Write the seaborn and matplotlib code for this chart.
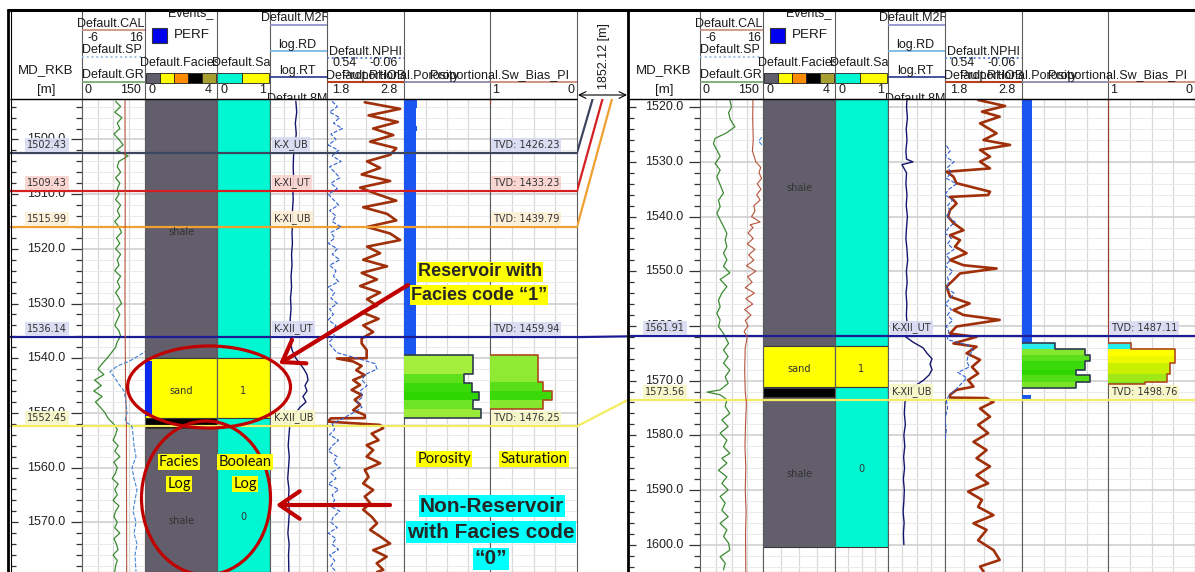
import numpy as np
import pandas as pd
import matplotlib
matplotlib.use("Agg")
import matplotlib.pyplot as plt
import seaborn as sns
from matplotlib.patches import Rectangle, Ellipse, FancyArrowPatch
from matplotlib.transforms import Bbox, TransformedBbox, blended_transform_factory
from matplotlib.ticker import MultipleLocator, FixedLocator, NullLocator

sns.set_theme(style="white")
plt.rcParams['font.family'] = ['Liberation Sans', 'DejaVu Sans']


def seq(start, n, step=1.0):
    return [round(start + step * i, 2) for i in range(n)]


# ======================= DATA =======================
LEFT_VIEW = (1492.6, 1579.1)
RIGHT_VIEW = (1518.5, 1605.0)
well_distance = "1852.12 [m]"

hz_names = ["K-X_UB", "K-XI_UT", "K-XI_UB", "K-XII_UT", "K-XII_UB"]
hz_left_md = [1502.43, 1509.43, 1515.99, 1536.14, 1552.45]
hz_left_tvd = [1426.23, 1433.23, 1439.79, 1459.94, 1476.25]
hz_right_md = [1496.6, 1502.0, 1508.1, 1561.91, 1573.56]
hz_right_tvd = [1420.2, 1425.6, 1431.7, 1487.11, 1498.76]
hz_colors = ['#3c4660', '#d42020', '#f0a030', '#1c1c96', '#f3ec60']
hz_label_bg = ['#d8dbf2', '#f9d3cf', '#fcefd6', '#d9daf3', '#f8f7c8']

facies_palette = ['#625e6b', '#ffff00', '#ff8c00', '#000000', '#a89f32']
boolean_palette = ['#00f7d2', '#ffff00']

# ---- left well ----
left_fac_top = [1492.6, 1540.0, 1550.9, 1552.8]
left_fac_base = [1540.0, 1550.9, 1552.8, 1579.1]
left_fac_code = [0, 1, 3, 0]
left_fac_label = ["shale", "sand", "shale"]
left_fac_label_md = [1516.9, 1546.0, 1569.8]
left_bool_top = [1492.6, 1540.0, 1550.9]
left_bool_base = [1540.0, 1550.9, 1579.1]
left_bool = [0, 1, 0]
left_bool_label_md = [1546.0, 1569.0]
left_perf_top = [1540.6]
left_perf_base = [1550.5]

left_gr_md = seq(1493.0, 87)
left_gr = [80, 92, 78, 95, 84, 90, 76, 88, 98, 82,
           110, 88, 84, 92, 80, 90, 84, 88, 80, 92,
           84, 90, 78, 88, 94, 82, 90, 80, 92, 84,
           88, 78, 92, 84, 90, 80, 88, 94, 82, 90,
           84, 78, 88, 92,
           84, 80, 70, 60, 48, 38, 52, 30, 46, 28, 48, 32, 44, 55, 62, 75, 84,
           80, 74, 86, 78, 90, 76, 84, 80, 72, 86, 78, 84, 74, 88, 80, 76, 84, 78,
           90, 76, 82, 86, 74, 84, 80, 78]
left_cal_md = [1492.6, 1510.0, 1530.0, 1545.0, 1552.0, 1579.1]
left_cal = [9.0, 9.1, 9.0, 9.2, 9.5, 9.6]
left_sp_md = [1538.5, 1540.5, 1541.5, 1542.5, 1543.5, 1544.5, 1546, 1548, 1550, 1551.5, 1552.5, 1554,
              1556, 1558, 1560, 1562, 1564, 1566, 1568, 1570, 1572, 1574, 1576, 1579]
left_sp = [45, 16, -5, -15.6, -8, -3, 6.7, 9.8, 11.4, 8.3, 19.4, 21,
           22.5, 25.7, 19.4, 22.5, 27.3, 24.1, 21, 25.7, 22.5, 27.3, 24.1, 25.7]
left_res_md = [1493, 1495, 1497, 1499, 1501, 1503, 1505, 1507, 1509, 1511, 1513, 1515, 1517, 1519, 1521,
               1523, 1525, 1527, 1529, 1531, 1533, 1535, 1537,
               1538.5, 1540, 1541, 1542, 1543, 1544, 1545, 1546, 1547, 1548, 1549, 1550, 1551, 1552,
               1554, 1556, 1558, 1560, 1562, 1564, 1566, 1568, 1570, 1572, 1574, 1576, 1579]
left_res = [13, 15, 12, 14, 11, 9, 8.5, 9, 8, 8.5, 7.5, 8, 7, 7.5, 6.5, 7, 6, 6.5, 5.5, 6, 5.2, 6, 5.5,
            7, 13, 25, 48, 79, 93, 57, 79, 41, 67, 25, 13, 7, 5,
            4.3, 3.8, 4.5, 4.0, 3.5, 4.3, 3.9, 4.6, 4.1, 3.6, 4.4, 4.0, 4.2]
left_nphi_md = seq(1493.0, 45) + [1537.5, 1539, 1540, 1541, 1542, 1543, 1544, 1545, 1546, 1547, 1548,
                                  1549, 1550, 1551, 1552] + seq(1553.0, 27)
left_nphi = [0.50, 0.46, 0.52, 0.44, 0.49, 0.42, 0.51, 0.47, 0.53, 0.45,
             0.50, 0.43, 0.52, 0.48, 0.44, 0.51, 0.46, 0.53, 0.49, 0.45,
             0.52, 0.47, 0.50, 0.43, 0.51, 0.48, 0.53, 0.46, 0.50, 0.44,
             0.52, 0.47, 0.49, 0.45, 0.53, 0.48, 0.51, 0.46, 0.52, 0.49,
             0.53, 0.47, 0.50, 0.48, 0.52,
             0.517, 0.462, 0.306, 0.166, 0.15, 0.244, 0.267, 0.228, 0.283, 0.26, 0.306, 0.267, 0.337,
             0.415, 0.50,
             0.48, 0.52, 0.45, 0.50, 0.53, 0.46, 0.49, 0.44, 0.51, 0.47,
             0.53, 0.45, 0.50, 0.48, 0.52, 0.44, 0.49, 0.51, 0.46, 0.53,
             0.47, 0.50, 0.45, 0.52, 0.48, 0.51, 0.47]
left_rhob_md = seq(1493.2, 37, 1.2) + [
    1537.3, 1538.5, 1540.0, 1540.05, 1540.6, 1541.4, 1542.2, 1543.1, 1544.0, 1544.9, 1545.8, 1546.7,
    1547.6, 1548.5, 1549.5, 1550.4, 1550.95, 1551.0, 1551.6, 1552.2, 1552.8, 1553.8, 1555.0, 1555.9,
    1556.8, 1558.0, 1559.2, 1560.4, 1561.7, 1562.9, 1564.1, 1565.3, 1566.5, 1567.7, 1569.0, 1570.2,
    1571.4, 1572.6, 1573.9, 1575.1, 1576.3, 1577.5, 1578.7, 1579.1]
left_rhob = [2.29, 2.75, 2.34, 2.72, 2.40, 2.66, 2.36, 2.70, 2.62, 2.32, 2.49, 2.25, 2.62, 2.23, 2.45,
             2.70, 2.27, 2.58, 2.70, 2.32, 2.62, 2.75, 2.32, 2.49, 2.27, 2.58, 2.25, 2.45, 2.23, 2.49,
             2.32, 2.45, 2.25, 2.47, 2.27, 2.40, 2.25,
             2.25, 2.315, 2.315, 1.93, 2.14, 2.25, 2.18, 2.29, 2.14, 2.23, 2.12, 2.25,
             2.16, 2.23, 2.14, 2.29, 2.29, 1.85, 1.81, 2.49, 2.53, 2.38, 2.47, 2.315,
             2.40, 2.315, 2.49, 2.29, 2.34, 2.27, 2.40, 2.29, 2.36, 2.27, 2.38, 2.45,
             2.36, 2.49, 2.62, 2.40, 2.575, 2.445, 2.53, 2.45]
left_blue_top = [1492.6, 1494.2, 1497.5, 1498.5]
left_blue_base = [1494.2, 1497.5, 1498.5, 1539.4]
left_blue = [0.15, 0.135, 0.15, 0.135]
left_por_top = [1539.4, 1542.8, 1544.6, 1546.1, 1547.7, 1549.3]
left_por_base = [1542.8, 1544.6, 1546.1, 1547.7, 1549.3, 1551.0]
left_por = [0.806, 0.698, 0.787, 0.876, 0.798, 0.891]
left_por_colors = ['#a4ee3c', '#5fe01c', '#3ad90a', '#2fd500', '#6ee426', '#9aec36']
left_sw_top = [1539.4, 1544.3, 1546.0, 1547.7]
left_sw_base = [1544.3, 1546.0, 1547.7, 1549.3]
left_sw = [0.445, 0.394, 0.291, 0.387]
left_sw_colors = ['#8fea34', '#5ade1a', '#3ad90a', '#86e82e']
left_swline_md = [1492.6, 1493.6]

# ---- right well ----
right_fac_top = [1518.5, 1563.6, 1571.4, 1573.0]
right_fac_base = [1563.6, 1571.2, 1573.0, 1600.5]
right_fac_code = [0, 1, 3, 0]
right_fac_label = ["shale", "sand", "shale"]
right_fac_label_md = [1534.8, 1567.9, 1587.1]
right_bool_top = [1518.5, 1563.6, 1571.2]
right_bool_base = [1563.6, 1571.2, 1600.5]
right_bool = [0, 1, 0]
right_bool_label_md = [1567.9, 1586.2]

right_gr_md = [1518.6, 1520, 1521, 1522.2, 1523.6, 1524.7, 1525.7, 1526.7, 1527.8, 1529,
               1530.3, 1531.5, 1532.7, 1534.2, 1535.7, 1537, 1538.2, 1539.4, 1540.6, 1541.8,
               1543.1, 1544.3, 1545.5, 1546.7, 1547.9, 1549.1, 1550.3, 1551.5, 1552.8, 1554,
               1555.3, 1556.5, 1557.7, 1558.9, 1560.1, 1561.4, 1562.6, 1563.2, 1564.4, 1565.6,
               1566.8, 1568.1, 1569.3, 1570.5, 1571.7, 1572.1, 1572.6, 1573.5, 1574.7, 1576.0,
               1577.2, 1578.4, 1579.6, 1580.9, 1582.1, 1583.3, 1584.2, 1585.1, 1586.4, 1587.6,
               1588.8, 1590.0, 1591.2, 1592.4, 1593.7, 1594.9, 1596.1, 1597.3, 1598.5, 1599.7,
               1601.0, 1602.2, 1603.4, 1604.6]
right_gr = [71, 75, 68, 72, 83, 63, 36, 32, 40, 48,
            36, 48, 40, 48, 56, 44, 48, 40, 48, 56,
            64, 60, 64, 56, 64, 56, 71, 48, 64, 52,
            44, 48, 40, 48, 44, 56, 64, 68, 56, 67,
            56, 71, 60, 67, 48, 17, 48, 64, 60, 71,
            52, 67, 48, 64, 56, 71, 52, 64, 44, 64,
            52, 67, 48, 60, 52, 67, 48, 64, 56, 68,
            71, 48, 60, 56]
right_cal_md = [1518.5, 1522, 1526, 1528, 1530, 1531, 1532, 1533, 1534, 1535,
                1536, 1537, 1538, 1539, 1540, 1541, 1541.5, 1542, 1543, 1544,
                1545, 1546, 1547, 1548, 1549, 1550, 1551, 1552, 1553, 1554,
                1555, 1556, 1557, 1558, 1559, 1560, 1561, 1562, 1564, 1568,
                1572, 1574, 1578, 1582, 1586, 1590, 1594, 1598, 1605]
right_cal = [12.5, 12.4, 12.6, 12.3, 13.5, 15.2, 14.6, 15.5, 14.0, 15.3,
             13.8, 15.0, 12.8, 13.2, 12.0, 15.0, 11.5, 12.5, 10.8, 12.6,
             10.5, 13.2, 11.0, 12.8, 10.2, 13.5, 10.6, 12.2, 9.8, 13.0,
             10.0, 12.4, 9.6, 11.8, 9.8, 10.8, 9.4, 10.5, 9.8, 9.6,
             9.8, 10.2, 9.9, 9.7, 10.0, 9.8, 10.1, 9.9, 10.0]
right_sp_md = [1525.5, 1526.2, 1527.0]
right_sp = [38, 33, 39]
right_res_md = [1518.5, 1520, 1522, 1524, 1526, 1528, 1529.5, 1530, 1530.5, 1532, 1534, 1536, 1538, 1540,
                1542, 1544, 1546, 1548, 1550, 1552, 1554, 1556, 1558, 1560, 1562,
                1563, 1564, 1565, 1566, 1567, 1568, 1569, 1570, 1571, 1572,
                1574, 1576, 1578, 1580, 1582, 1584, 1586, 1588, 1590, 1592, 1594, 1596, 1598, 1600]
right_res = [4.3, 4.0, 4.6, 3.8, 4.3, 3.6, 4.0, 11.3, 1.9, 4.0, 3.6, 4.3, 3.8, 4.6, 4.0, 3.6, 4.3, 4.8,
             3.9, 4.4, 3.7, 4.2, 3.9, 4.5, 3.5,
             12, 57, 110, 245, 178, 245, 150, 57, 15, 4.5,
             3.1, 2.8, 3.3, 2.6, 3.0, 2.5, 2.9, 2.4, 2.8, 2.6, 2.3, 2.7, 2.4, 2.6]
right_nphi_md = seq(1527.0, 36) + [1562.5, 1563.5, 1564.5, 1565.5, 1566.5, 1567.5, 1568.5, 1569.5,
                                   1570.5, 1571.5, 1572.5, 1573.5, 1575, 1577, 1579, 1581]
right_nphi = [0.53, 0.50, 0.54, 0.47, 0.52, 0.49, 0.53, 0.45, 0.51, 0.54,
              0.48, 0.52, 0.50, 0.53, 0.46, 0.51, 0.54, 0.49, 0.52, 0.47,
              0.53, 0.50, 0.54, 0.48, 0.52, 0.51, 0.53, 0.47, 0.50, 0.54,
              0.49, 0.52, 0.48, 0.53, 0.51, 0.52,
              0.52, 0.36, 0.32, 0.36, 0.37, 0.35, 0.44, 0.37, 0.41, 0.45, 0.50, 0.53, 0.52, 0.54,
              0.53, 0.54]
right_rhob_md = [1518.68, 1519.78, 1520.82, 1521.73, 1522.95, 1524.78, 1526.0, 1526.9, 1527.8, 1529.05,
                 1529.96, 1531.2, 1531.8, 1532.7, 1533.9, 1535.45, 1536.06, 1536.4, 1536.97, 1537.6,
                 1538.8, 1540.0, 1541.2, 1542.5, 1543.4, 1544.3, 1545.5, 1546.7, 1547.95, 1548.9,
                 1549.5, 1550.4, 1551.6, 1552.8, 1554.65, 1555.9, 1557.1, 1558.0, 1558.9, 1560.1,
                 1561.4, 1562.0, 1563.2,
                 1563.8, 1565.0, 1566.2, 1567.5, 1568.7, 1569.9, 1571.1, 1571.7, 1572.6, 1573.1,
                 1573.2, 1573.9, 1575.1, 1576.6, 1578.1, 1579.6, 1581.2, 1582.7, 1584.2, 1585.7,
                 1587.3, 1588.8, 1590.3, 1591.8, 1593.1, 1594.6, 1596.1, 1597.3, 1599.2, 1601.0,
                 1602.8, 1604.0, 1604.9]
right_rhob = [2.23, 2.58, 2.28, 2.51, 2.255, 2.47, 2.30, 2.645, 2.255, 2.385,
              2.255, 2.385, 1.82, 1.91, 1.95, 2.385, 2.36, 1.865, 1.91, 1.95,
              1.865, 1.84, 1.91, 2.04, 1.865, 1.995, 1.93, 2.08, 1.865, 2.04,
              2.47, 1.995, 1.91, 1.82, 1.865, 2.12, 1.91, 2.04, 2.51, 1.95,
              1.865, 2.21, 1.91,
              2.21, 2.08, 2.255, 2.15, 2.23, 2.10, 2.17, 1.95, 1.865, 1.865,
              2.34, 2.43, 2.255, 2.385, 2.23, 2.36, 2.17, 2.34, 2.21, 2.385,
              2.21, 2.36, 2.10, 2.28, 2.23, 2.43, 2.17, 2.34, 2.23, 2.43,
              2.51, 2.255, 2.30]
right_blue_top = [1518.5, 1572.6]
right_blue_base = [1563.1, 1573.5]
right_blue = [0.12, 0.10]
right_por_top = [1563.1, 1564.3, 1565.3, 1566.5, 1568.1, 1569.0, 1570.2]
right_por_base = [1564.3, 1565.3, 1566.5, 1568.1, 1569.0, 1570.2, 1571.4]
right_por = [0.384, 0.733, 0.791, 0.733, 0.628, 0.791, 0.628]
right_por_colors = ['#28ecec', '#86e82e', '#5cdf1a', '#3ad90a', '#2fd500', '#52dd16', '#7ae428']
right_sw_top = [1563.1, 1564.3, 1565.5, 1566.8, 1568.7, 1570.2]
right_sw_base = [1564.3, 1565.5, 1566.8, 1568.7, 1570.2, 1570.6]
right_sw = [0.736, 0.23, 0.23, 0.287, 0.325, 0.575]
right_sw_colors = ['#28ecec', '#ffff00', '#eef800', '#c8f000', '#a0e818', '#70e020']
right_swline_md = [1518.5, 1563.1]

# ======================= FIGURE =======================
W, H = 1195, 572
Y0, Y1 = 99, 572
fig = plt.figure(figsize=(W / 100, H / 100), dpi=100)
fig.patch.set_facecolor('white')

ov = fig.add_axes([0, 0, 1, 1], zorder=20)
ov.set_xlim(0, W)
ov.set_ylim(H, 0)
ov.set_axis_off()
ov.patch.set_visible(False)


def rect(x0, x1, y0=Y0, y1=Y1):
    return [x0 / W, 1 - y1 / H, (x1 - x0) / W, (y1 - y0) / H]


def new_ax(x0, x1, view, z=1):
    ax = fig.add_axes(rect(x0, x1), zorder=z)
    for s in ax.spines.values():
        s.set_color('#5c5c5c')
        s.set_linewidth(0.8)
    ax.tick_params(which='both', length=0, labelleft=False, labelbottom=False)
    ax.set_ylim(view[1], view[0])
    return ax


def over_ax(x0, x1, view, z=2):
    ax = fig.add_axes(rect(x0, x1), zorder=z)
    ax.set_axis_off()
    ax.patch.set_visible(False)
    ax.set_ylim(view[1], view[0])
    return ax


def add_grid(ax, xticks):
    ax.yaxis.set_major_locator(MultipleLocator(10))
    ax.yaxis.set_minor_locator(MultipleLocator(2))
    ax.xaxis.set_major_locator(FixedLocator(xticks))
    ax.xaxis.set_minor_locator(NullLocator())
    ax.grid(True, which='major', axis='y', color='#d3d3d3', lw=1.3)
    ax.grid(True, which='minor', axis='y', color='#ebebeb', lw=0.7)
    ax.grid(True, which='major', axis='x', color='#d9d9d9', lw=0.9)
    ax.set_axisbelow(True)
    ax.tick_params(which='both', length=0, labelleft=False, labelbottom=False)


def curve(ax, md, val, color, lw, ls='-'):
    sns.lineplot(x=val, y=md, sort=False, estimator=None, ax=ax, color=color,
                 linewidth=lw, linestyle=ls, legend=False)
    ax.set_xlabel('')
    ax.set_ylabel('')


def step_outline(tops, bases, vals, base):
    xs, ys = [base], [tops[0]]
    for t, b, v in zip(tops, bases, vals):
        xs += [v, v]
        ys += [t, b]
    xs.append(base)
    ys.append(bases[-1])
    return xs, ys


def hclip(x0, x1):
    return TransformedBbox(Bbox([[x0 / W, 1 - 99 / H], [x1 / W, 1 - 10 / H]]), fig.transFigure)


def htxt(x, y, s, clip=None, **kw):
    kw.setdefault('fontsize', 9)
    kw.setdefault('ha', 'center')
    kw.setdefault('va', 'center')
    kw.setdefault('color', '#1a1a1a')
    t = ov.text(x, y, s, **kw)
    if clip is not None:
        t.set_clip_box(hclip(*clip))
        t.set_clip_on(True)
    return t


LBL = dict(fontsize=7, family='DejaVu Sans', color='#333333', zorder=9)


def build_well(ox, view, d):
    X = lambda a: a + ox
    vis = [i for i, m in enumerate(d['hz_md']) if view[0] < m < view[1]]

    # ---- MD track ----
    axm = new_ax(X(10), X(82), view)
    axm.set_xlim(0, 1)
    for k in ['left', 'top', 'bottom']:
        axm.spines[k].set_visible(False)
    tm = blended_transform_factory(axm.transAxes, axm.transData)
    for dd in np.arange(np.ceil(view[0] / 2) * 2, view[1], 2):
        major = abs(dd % 10) < 1e-6
        axm.hlines(dd, 1 - (11 if major else 6) / 72, 1, transform=tm, color='#333333', lw=0.9)
        axm.hlines(dd, 0.02, 0.02 + (7 if major else 5) / 72, transform=tm, color='#333333', lw=0.9)
        if major:
            axm.text(0.77, dd, f"{dd:.1f}", transform=tm, ha='right', va='center',
                     fontsize=9, color='#222222')
    for i in vis:
        axm.axhline(d['hz_md'][i], color=hz_colors[i], lw=1.6, zorder=6)
        axm.text(0.51, d['hz_md'][i] - 0.55, f"{d['hz_md'][i]:.2f}", transform=tm, ha='center',
                 va='bottom', bbox=dict(boxstyle='square,pad=0.2', fc=hz_label_bg[i], ec='none', alpha=0.92),
                 **LBL)

    # ---- Track 2: GR / CAL / SP ----
    ax2 = new_ax(X(82), X(145), view)
    add_grid(ax2, [37.5, 75, 112.5])
    curve(ax2, d['gr_md'], d['gr'], '#3a8a30', 0.9)
    ax2.set_xlim(0, 150)
    ax2c = over_ax(X(82), X(145), view)
    curve(ax2c, d['cal_md'], d['cal'], '#b5533a', 0.8)
    ax2c.set_xlim(-6, 16)
    ax2s = over_ax(X(82), X(145), view)
    curve(ax2s, d['sp_md'], d['sp'], '#3f86d6', 0.8, '--')
    ax2s.set_xlim(-60, 40)

    # ---- Track 3: facies ----
    ax3 = new_ax(X(145), X(217), view)
    add_grid(ax3, [0.25, 0.5, 0.75])
    ax3.barh(y=d['fac_top'], width=1, height=np.subtract(d['fac_base'], d['fac_top']), left=0,
             align='edge', color=[facies_palette[c] for c in d['fac_code']], edgecolor='#3a3a3a', lw=0.8,
             zorder=2)
    if d['perf_top']:
        ax3.barh(y=d['perf_top'], width=0.1, height=np.subtract(d['perf_base'], d['perf_top']), left=0,
                 align='edge', color='#0a2af0', edgecolor='none', zorder=3)
    t3 = blended_transform_factory(ax3.transAxes, ax3.transData)
    for s, m in zip(d['fac_label'], d['fac_label_md']):
        ax3.text(0.5, m, s, transform=t3, ha='center', va='center', **LBL)
    ax3.set_xlim(0, 1)

    # ---- Track 4: boolean ----
    ax4 = new_ax(X(217), X(270), view)
    add_grid(ax4, [0.25, 0.5, 0.75])
    ax4.barh(y=d['bool_top'], width=1, height=np.subtract(d['bool_base'], d['bool_top']), left=0,
             align='edge', color=[boolean_palette[c] for c in d['bool']], edgecolor='#3a3a3a', lw=0.8,
             zorder=2)
    t4 = blended_transform_factory(ax4.transAxes, ax4.transData)
    for v, m in zip([1, 0], d['bool_label_md']):
        ax4.text(0.5, m, str(v), transform=t4, ha='center', va='center', **LBL)
    ax4.set_xlim(0, 1)

    # ---- Track 5: resistivity ----
    ax5 = new_ax(X(270), X(327), view)
    ax5.set_xscale('log')
    add_grid(ax5, [2, 20, 200])
    curve(ax5, d['res_md'], d['res'], '#14146e', 1.0)
    ax5.set_xlim(0.2, 2000)
    t5 = blended_transform_factory(ax5.transAxes, ax5.transData)
    for i in vis:
        ax5.text(0.07, d['hz_md'][i] - 0.55, hz_names[i], transform=t5, ha='left', va='bottom',
                 bbox=dict(boxstyle='square,pad=0.2', fc=hz_label_bg[i], ec='none', alpha=0.92), **LBL)

    # ---- Track 6: RHOB / NPHI ----
    ax6 = new_ax(X(327), X(404), view)
    add_grid(ax6, [2.05, 2.3, 2.55])
    curve(ax6, d['rhob_md'], d['rhob'], '#a0300a', 1.9)
    ax6.set_xlim(1.8, 2.8)
    ax6n = over_ax(X(327), X(404), view)
    curve(ax6n, d['nphi_md'], d['nphi'], '#2f5fd0', 0.8, '--')
    ax6n.set_xlim(0.54, -0.06)

    # ---- Track 7: proportion porosity ----
    ax7 = new_ax(X(404), X(490), view)
    add_grid(ax7, [0.25, 0.5, 0.75])
    ax7.barh(y=d['blue_top'], width=d['blue'], height=np.subtract(d['blue_base'], d['blue_top']),
             left=0, align='edge', color='#1a55f0', edgecolor='none', zorder=3)
    ax7.barh(y=d['por_top'], width=d['por'], height=np.subtract(d['por_base'], d['por_top']),
             left=0, align='edge', color=d['por_colors'], edgecolor='none', zorder=3)
    xs, ys = step_outline(d['por_top'], d['por_base'], d['por'], 0)
    ax7.plot(xs, ys, color='#2e3b4e', lw=1.2, zorder=4)
    ax7.set_xlim(0, 1)

    # ---- Track 8: proportion Sw ----
    ax8 = new_ax(X(490), X(577), view)
    add_grid(ax8, [0.25, 0.5, 0.75])
    ax8.barh(y=d['sw_top'], width=np.subtract(1, d['sw']), height=np.subtract(d['sw_base'], d['sw_top']),
             left=d['sw'], align='edge', color=d['sw_colors'], edgecolor='none', zorder=3)
    xs, ys = step_outline(d['sw_top'], d['sw_base'], d['sw'], 1)
    ax8.plot(xs, ys, color='#b0481c', lw=1.2, zorder=4)
    ax8.plot([1, 1], d['swline_md'], color='#a03a2a', lw=1.6, zorder=4)
    ax8.set_xlim(1, 0)
    t8 = blended_transform_factory(ax8.transAxes, ax8.transData)
    for i in vis:
        ax8.text(0.03, d['hz_md'][i] - 0.55, f"TVD: {d['hz_tvd'][i]:.2f}", transform=t8, ha='left',
                 va='bottom', bbox=dict(boxstyle='square,pad=0.2', fc=hz_label_bg[i], ec='none', alpha=0.92),
                 **LBL)

    for ax in [ax2, ax3, ax4, ax5, ax6, ax7, ax8]:
        for i in vis:
            ax.axhline(d['hz_md'][i], color=hz_colors[i], lw=1.6, zorder=6)
        ax.set_ylim(view[1], view[0])
    for ax in [axm, ax2c, ax2s, ax6n]:
        ax.set_ylim(view[1], view[0])

    # ---- header ----
    seps = [82, 145, 217, 270, 327, 404, 490, 577]
    ov.vlines([X(v) for v in seps], 10, 99, color='#5c5c5c', lw=0.8)
    ov.hlines(99, X(10), X(577), color='black', lw=1.0)
    htxt(X(46), 70, "MD_RKB", fontsize=9.5)
    htxt(X(46), 90, "[m]", fontsize=9.5)
    # T2
    htxt(X(111), 24, "Default.CAL", clip=(X(60), X(145)))
    ov.hlines(30, X(82), X(145), color='#c98a76', lw=1.2)
    htxt(X(93), 38, "-6")
    htxt(X(136), 38, "16")
    htxt(X(112), 50, "Default.SP", clip=(X(60), X(145)))
    ov.hlines(57, X(82), X(145), color='#8fb8dc', lw=1.3, linestyles=':')
    htxt(X(113), 75, "Default.GR", clip=(X(60), X(145)))
    ov.hlines(81.5, X(82), X(145), color='#6ea36a', lw=1.2)
    htxt(X(88), 90, "0")
    htxt(X(131), 90, "150")
    # T3
    htxt(X(191), 13, "Events_", clip=(X(145), X(217)))
    ov.add_patch(Rectangle((X(152), 28), 15, 15, fc='#0000f0', ec='#333333', lw=0.8))
    htxt(X(174), 35, "PERF", ha='left', fontsize=9.7)
    htxt(X(180), 63, "Default.Facies", clip=(X(130), X(217)))
    for k, c in enumerate(facies_palette):
        ov.add_patch(Rectangle((X(146) + k * 14, 73), 14, 10, fc=c, ec='#222222', lw=0.6))
    htxt(X(152), 90, "0")
    htxt(X(208), 90, "4")
    # T4
    htxt(X(243), 63, "Default.Sat", clip=(X(205), X(270)))
    ov.add_patch(Rectangle((X(217), 73), 25, 10, fc=boolean_palette[0], ec='#222222', lw=0.6))
    ov.add_patch(Rectangle((X(242), 73), 27, 10, fc=boolean_palette[1], ec='#222222', lw=0.6))
    htxt(X(224), 90, "0")
    htxt(X(263), 90, "1")
    # T5
    htxt(X(296), 18, "Default.M2R", clip=(X(255), X(327)))
    ov.hlines(24.5, X(270), X(327), color='#8a8ac8', lw=1.2)
    htxt(X(297), 45, "log.RD", clip=(X(270), X(327)))
    ov.hlines(51, X(270), X(327), color='#6fb3e0', lw=1.2)
    htxt(X(297), 71, "log.RT", clip=(X(270), X(327)))
    ov.hlines(77, X(270), X(327), color='#2a3590', lw=1.2)
    htxt(X(297), 99.5, "Default.8M", clip=(X(255), X(327)))
    # T6
    htxt(X(365), 52, "Default.NPHI", clip=(X(320), X(404)))
    ov.hlines(57.5, X(327), X(404), color='#4a6fd0', lw=1.3, linestyles=':')
    htxt(X(345), 63, "0.54")
    htxt(X(384), 63, "-0.06")
    htxt(X(366), 76, "Default.RHOB", clip=(X(320), X(404)))
    ov.hlines(81.5, X(327), X(404), color='#b5401a', lw=1.5)
    htxt(X(341), 90, "1.8")
    htxt(X(389), 90, "2.8")
    # T7 / T8
    htxt(X(342), 76, "Proportional.Porosity", ha='left', clip=(X(330), X(490)))
    ov.hlines(81.5, X(404), X(490), color='#8080a8', lw=1.2)
    htxt(X(430), 76, "Proportional.Sw_Bias_PI", ha='left', clip=(X(420), X(577)))
    ov.hlines(81.5, X(490), X(577), color='#c8806e', lw=1.2)
    htxt(X(496), 90, "1")
    htxt(X(571), 90, "0")
    return ax8


left_data = dict(hz_md=hz_left_md, hz_tvd=hz_left_tvd,
                 fac_top=left_fac_top, fac_base=left_fac_base, fac_code=left_fac_code,
                 fac_label=left_fac_label, fac_label_md=left_fac_label_md,
                 bool_top=left_bool_top, bool_base=left_bool_base, bool=left_bool,
                 bool_label_md=left_bool_label_md, perf_top=left_perf_top, perf_base=left_perf_base,
                 gr_md=left_gr_md, gr=left_gr, cal_md=left_cal_md, cal=left_cal, sp_md=left_sp_md, sp=left_sp,
                 res_md=left_res_md, res=left_res, nphi_md=left_nphi_md, nphi=left_nphi,
                 rhob_md=left_rhob_md, rhob=left_rhob,
                 blue_top=left_blue_top, blue_base=left_blue_base, blue=left_blue,
                 por_top=left_por_top, por_base=left_por_base, por=left_por, por_colors=left_por_colors,
                 sw_top=left_sw_top, sw_base=left_sw_base, sw=left_sw, sw_colors=left_sw_colors,
                 swline_md=left_swline_md)
right_data = dict(hz_md=hz_right_md, hz_tvd=hz_right_tvd,
                  fac_top=right_fac_top, fac_base=right_fac_base, fac_code=right_fac_code,
                  fac_label=right_fac_label, fac_label_md=right_fac_label_md,
                  bool_top=right_bool_top, bool_base=right_bool_base, bool=right_bool,
                  bool_label_md=right_bool_label_md, perf_top=[], perf_base=[],
                  gr_md=right_gr_md, gr=right_gr, cal_md=right_cal_md, cal=right_cal,
                  sp_md=right_sp_md, sp=right_sp,
                  res_md=right_res_md, res=right_res, nphi_md=right_nphi_md, nphi=right_nphi,
                  rhob_md=right_rhob_md, rhob=right_rhob,
                  blue_top=right_blue_top, blue_base=right_blue_base, blue=right_blue,
                  por_top=right_por_top, por_base=right_por_base, por=right_por,
                  por_colors=right_por_colors,
                  sw_top=right_sw_top, sw_base=right_sw_base, sw=right_sw, sw_colors=right_sw_colors,
                  swline_md=right_swline_md)

build_well(0, LEFT_VIEW, left_data)
build_well(618, RIGHT_VIEW, right_data)

# ---- correlation panel between wells ----
axc = fig.add_axes(rect(577, 627.5), zorder=1)
axc.set_axis_off()
for i in range(len(hz_names)):
    right_equiv = LEFT_VIEW[0] + (hz_right_md[i] - RIGHT_VIEW[0])
    axc.plot([0, 1], [hz_left_md[i], right_equiv], color=hz_colors[i], lw=1.6)
axc.set_xlim(0, 1)
axc.set_ylim(LEFT_VIEW[1], LEFT_VIEW[0])
htxt(604, 56, well_distance, rotation=90, fontsize=9)
ov.annotate('', xy=(578, 95), xytext=(627, 95),
            arrowprops=dict(arrowstyle='<->', lw=0.8, color='black', shrinkA=0, shrinkB=0))

# ---- frame ----
ov.hlines(9.5, 7, W, color='black', lw=2.2)
ov.vlines(8.3, 9, H, color='black', lw=2.0)
ov.vlines(10.6, 9, H, color='black', lw=0.8)
ov.vlines(628.5, 9, H, color='black', lw=2.0)

# ---- annotations (left well) ----
RED = '#c00000'
ov.add_patch(Ellipse((209, 387), 163, 82, fill=False, ec=RED, lw=2.3))
ov.add_patch(Ellipse((206, 498), 129, 154, fill=False, ec=RED, lw=2.3))
ov.add_patch(FancyArrowPatch((408, 285), (279, 364), arrowstyle='->,head_length=0.8,head_width=0.55',
                             mutation_scale=18, lw=3, color=RED, shrinkA=0, shrinkB=0))
ov.add_patch(FancyArrowPatch((390, 505), (276, 505), arrowstyle='->,head_length=0.8,head_width=0.55',
                             mutation_scale=18, lw=3, color=RED, shrinkA=0, shrinkB=0))

ybox = dict(boxstyle='square,pad=0.06', fc='#ffff00', ec='none')
cbox = dict(boxstyle='square,pad=0.06', fc='#00ffff', ec='none')
ov.text(480, 272, "Reservoir with", fontsize=13, fontweight='bold', ha='center', va='center', bbox=ybox)
ov.text(479, 295, "Facies code \u201c1\u201d", fontsize=13, fontweight='bold', ha='center', va='center',
        bbox=ybox)
ov.text(492, 506, "Non-Reservoir", fontsize=15, fontweight='bold', ha='center', va='center', bbox=cbox)
ov.text(491, 532, "with Facies code", fontsize=15, fontweight='bold', ha='center', va='center', bbox=cbox)
ov.text(491, 559, "\u201c0\u201d", fontsize=15, fontweight='bold', ha='center', va='center', bbox=cbox)

sbox = dict(boxstyle='square,pad=0.08', fc='#ffff00', ec='none')
for txt, x, y in [("Facies", 179, 462), ("Log", 179, 484), ("Boolean", 245, 462), ("Log", 245, 484),
                  ("Porosity", 444, 459), ("Saturation", 534, 459)]:
    ov.text(x, y, txt, fontsize=10.5, family=['Lato', 'DejaVu Sans'], ha='center', va='center',
            color='#111111', bbox=sbox)

fig.savefig("out.png", dpi=100, facecolor='white')
